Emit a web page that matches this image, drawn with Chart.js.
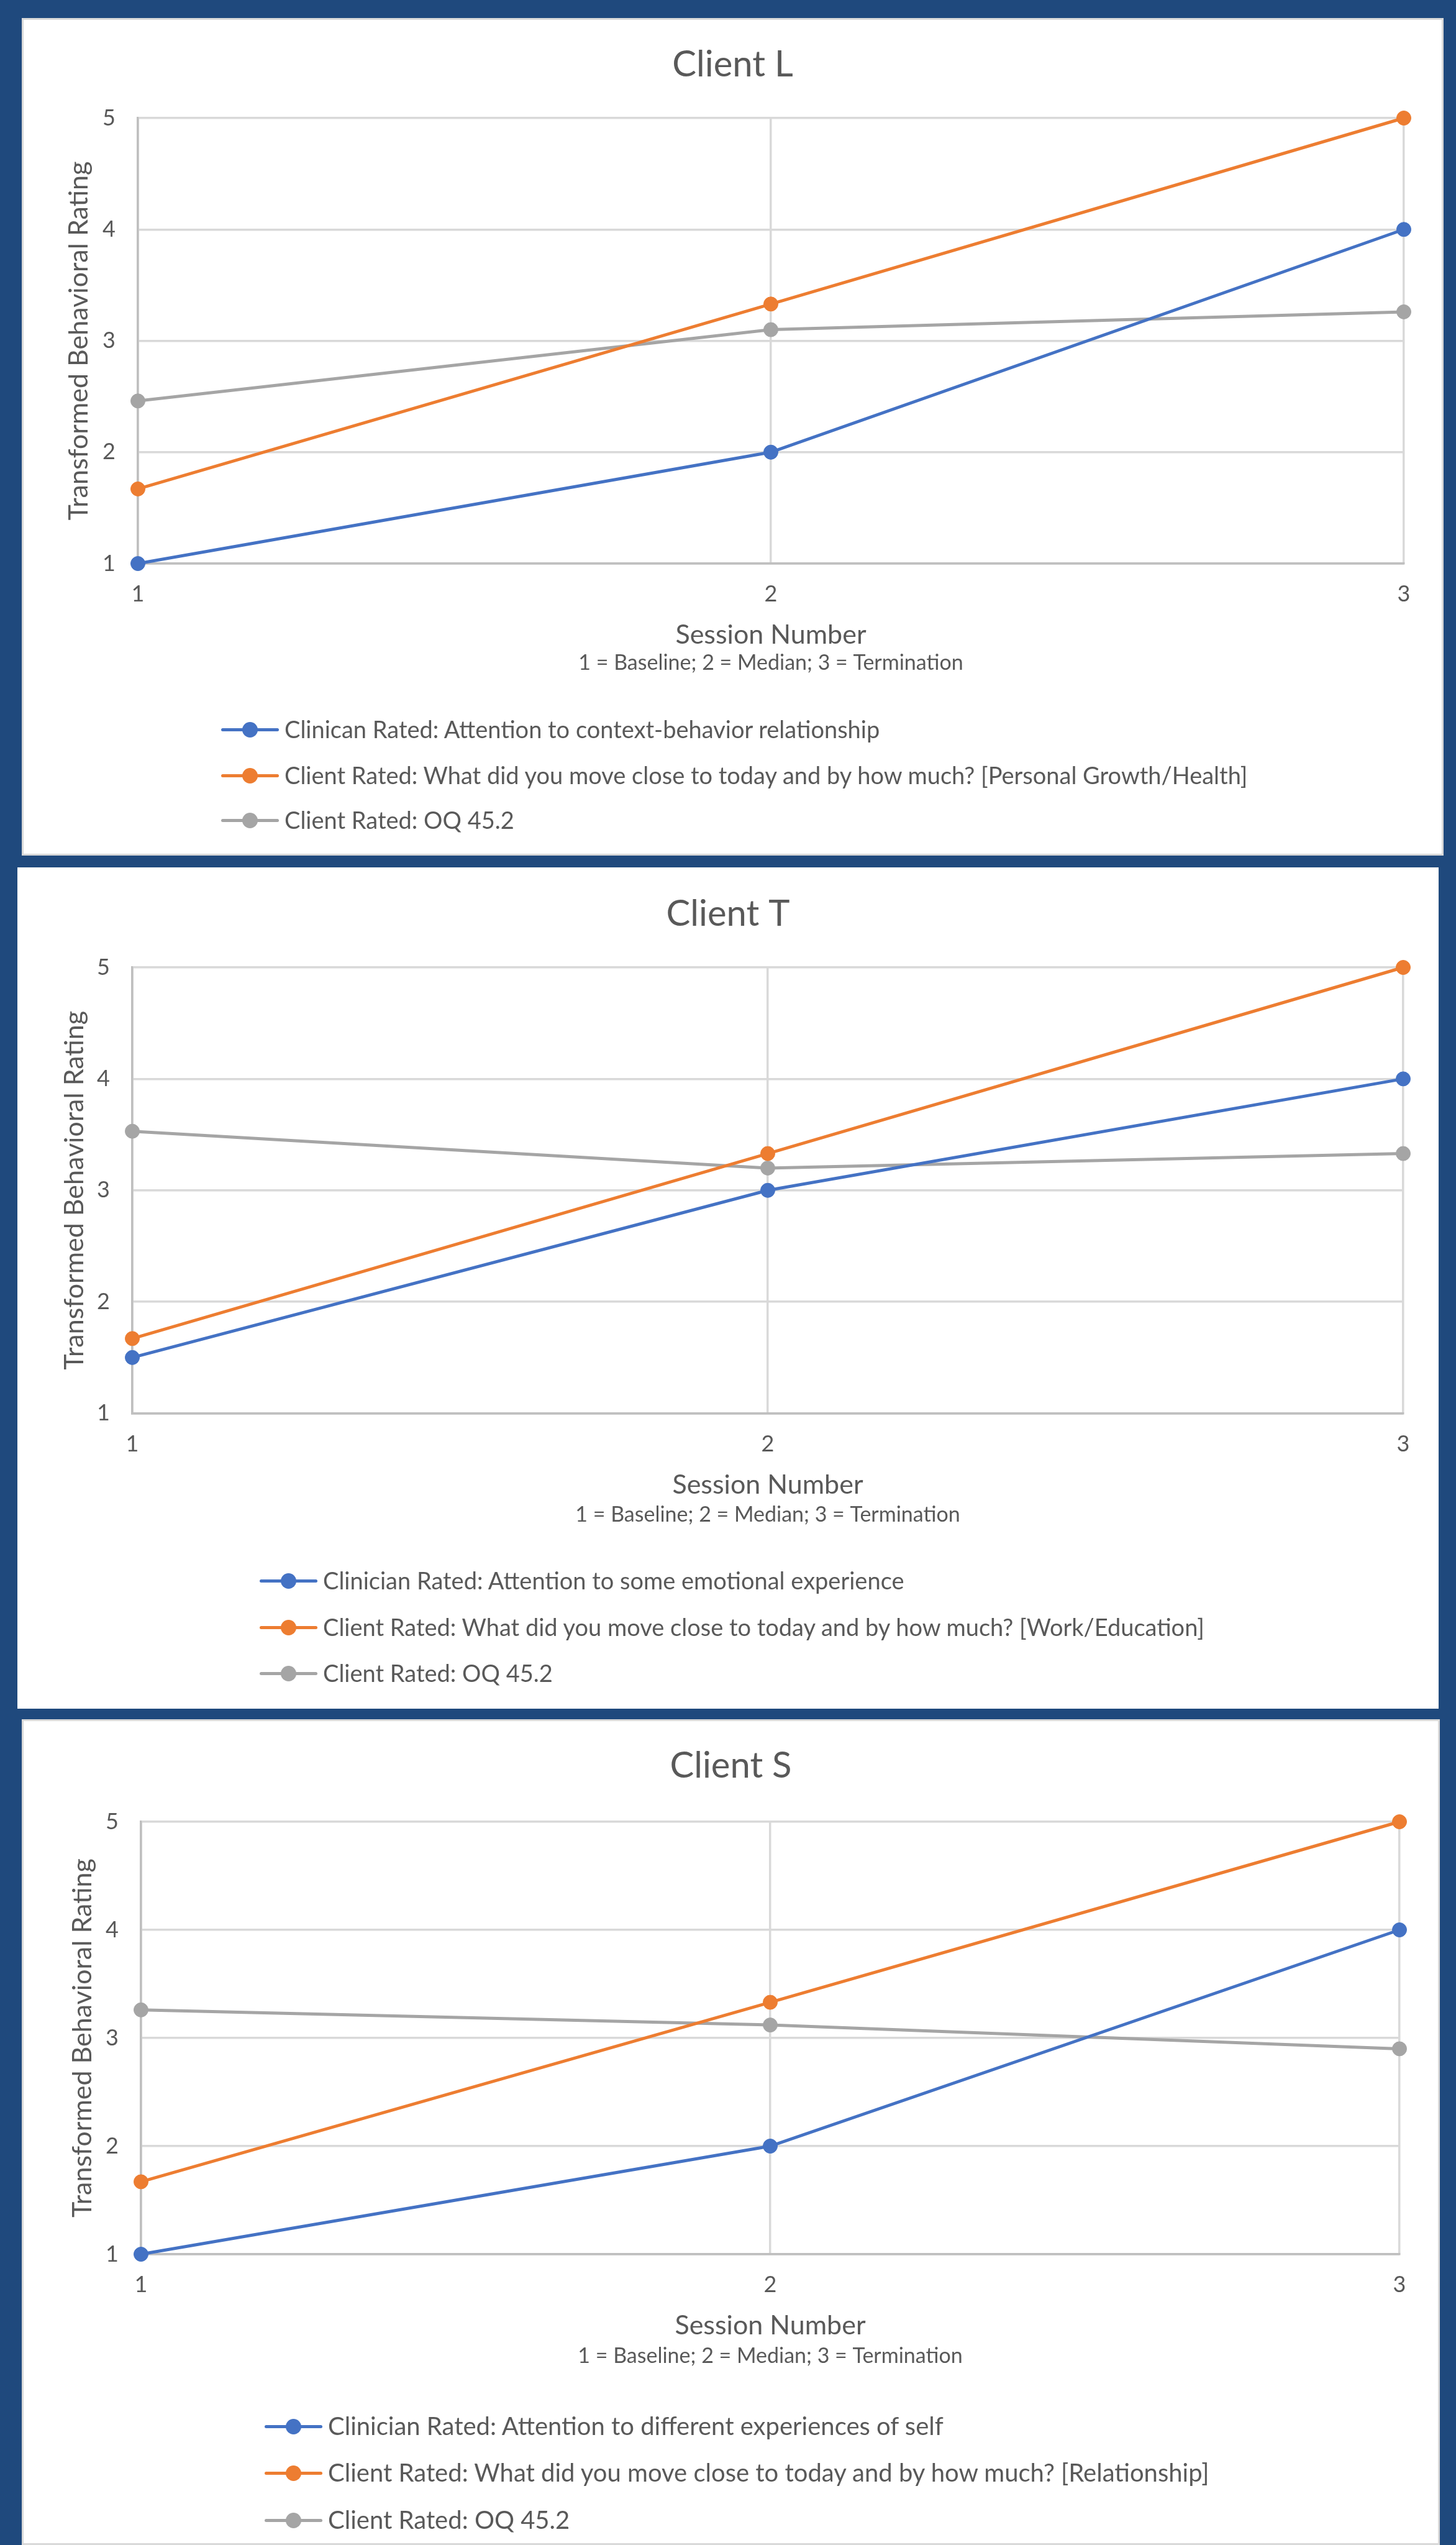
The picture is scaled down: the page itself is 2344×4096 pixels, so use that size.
<!DOCTYPE html>
<html>
<head>
<meta charset="utf-8">
<title>Client L, T and S – Transformed Behavioral Ratings</title>
<script src="https://cdn.jsdelivr.net/npm/chart.js@4.4.1/dist/chart.umd.min.js"></script>
<style>
  html, body { margin: 0; padding: 0; background: #1f497d; width: 2344px; height: 4096px; overflow: hidden; font-family: Lato, sans-serif; }
  .panel { position: absolute; background: #ffffff; }
  .panel.framed { box-shadow: inset 0 0 0 3px #d9d9d9; }
  .panel canvas { position: absolute; left: 0; top: 0; }
  .legend-item { position: absolute; height: 0; white-space: nowrap; color: #595959; font-size: 38px; }
  .legend-line { position: absolute; left: 0; top: -2.5px; width: 93px; height: 5px; border-radius: 2.5px; }
  .legend-dot { position: absolute; left: 34px; top: -12.5px; width: 25px; height: 25px; border-radius: 50%; }
  .legend-text { position: absolute; left: 102px; top: 0; transform: translateY(-52%); line-height: 1; }
</style>
</head>
<body>
<script>
// Shared axis content
const sessions = ['1', '2', '3'];
const xAxisTitle = 'Session Number';
const xAxisNote = '1 = Baseline; 2 = Median; 3 = Termination';
const yAxisTitle = 'Transformed Behavioral Rating';
const seriesColors = ['#4472c4', '#ed7d31', '#a5a5a5'];

// Client L
const clientLNames = [
  'Clinican Rated: Attention to context-behavior relationship',
  'Client Rated: What did you move close to today and by how much? [Personal Growth/Health]',
  'Client Rated: OQ 45.2'
];
const clientLClinician = [1, 2, 4];
const clientLMoveCloser = [1.67, 3.33, 5];
const clientLOQ = [2.46, 3.10, 3.26];

// Client T
const clientTNames = [
  'Clinician Rated: Attention to some emotional experience',
  'Client Rated: What did you move close to today and by how much? [Work/Education]',
  'Client Rated: OQ 45.2'
];
const clientTClinician = [1.5, 3, 4];
const clientTMoveCloser = [1.67, 3.33, 5];
const clientTOQ = [3.53, 3.20, 3.33];

// Client S
const clientSNames = [
  'Clinician Rated: Attention to different experiences of self',
  'Client Rated: What did you move close to today and by how much? [Relationship]',
  'Client Rated: OQ 45.2'
];
const clientSClinician = [1, 2, 4];
const clientSMoveCloser = [1.67, 3.33, 5];
const clientSOQ = [3.26, 3.12, 2.90];

Chart.defaults.font.family = 'Lato, sans-serif';
Chart.defaults.color = '#595959';

// Panel geometry (page pixels)
const panels = [
  { title: 'Client L', names: clientLNames, series: [clientLClinician, clientLMoveCloser, clientLOQ],
    left: 35, top: 29, width: 2289, height: 1348, framed: true,
    axisLeft: 187, gapRight: 64, plotTop: 161, plotBottom: 878, yTitleCenter: 92, noteTop: 0.6,
    legendLeft: 321, legendRows: [1145, 1219, 1291], legendSize: 38 },
  { title: 'Client T', names: clientTNames, series: [clientTClinician, clientTMoveCloser, clientTOQ],
    left: 28, top: 1396, width: 2288, height: 1354, framed: false,
    axisLeft: 185, gapRight: 57, plotTop: 161, plotBottom: 878.5, yTitleCenter: 92, noteTop: 3.8,
    legendLeft: 390, legendRows: [1148, 1223, 1297], legendSize: 38 },
  { title: 'Client S', names: clientSNames, series: [clientSClinician, clientSMoveCloser, clientSOQ],
    left: 35, top: 2767, width: 2283, height: 1329, framed: true,
    axisLeft: 192, gapRight: 65, plotTop: 165, plotBottom: 861, yTitleCenter: 98, noteTop: 3.8,
    legendLeft: 391, legendRows: [1138, 1213, 1289], legendSize: 40 }
];

const X_AXIS_HEIGHT = 140;
const TITLE_SIZE = 58, AXIS_TITLE_SIZE = 43, TICK_SIZE = 36, NOTE_SIZE = 34;

function buildPanel(p) {
  const div = document.createElement('div');
  div.className = 'panel' + (p.framed ? ' framed' : '');
  Object.assign(div.style, { left: p.left + 'px', top: p.top + 'px', width: p.width + 'px', height: p.height + 'px' });
  document.body.appendChild(div);

  const canvas = document.createElement('canvas');
  canvas.width = p.width;
  canvas.height = p.height;
  canvas.style.width = p.width + 'px';
  canvas.style.height = p.height + 'px';
  div.appendChild(canvas);

  const titleLine = TITLE_SIZE * 1.2;
  const titlePadTop = 75.5 - titleLine / 2;
  const titlePadBottom = p.plotTop - titlePadTop - titleLine;
  const noteLine = NOTE_SIZE * 1.2;
  const noteTop = p.noteTop + 19.8 - noteLine / 2;
  const bottomPad = p.height - p.plotBottom - X_AXIS_HEIGHT - noteTop - noteLine;
  const yTitlePad = p.yTitleCenter - AXIS_TITLE_SIZE * 1.2 / 2;
  const xTitleBottom = X_AXIS_HEIGHT - 115.5 - AXIS_TITLE_SIZE * 1.2 / 2;

  const datasets = p.series.map((values, i) => ({
    label: p.names[i],
    data: values,
    borderColor: seriesColors[i],
    backgroundColor: seriesColors[i],
    pointBackgroundColor: seriesColors[i],
    pointBorderColor: seriesColors[i],
    borderWidth: 5,
    pointRadius: 11.5,
    pointBorderWidth: 1,
    tension: 0,
    fill: false,
    clip: false
  }));

  new Chart(canvas, {
    type: 'line',
    data: { labels: sessions, datasets: datasets },
    options: {
      responsive: false,
      animation: false,
      devicePixelRatio: 1,
      layout: { padding: { left: 0, right: 0, top: 0, bottom: bottomPad } },
      plugins: {
        legend: { display: false },
        tooltip: { enabled: false },
        title: {
          display: true, text: p.title, color: '#595959',
          font: { size: TITLE_SIZE, weight: 'normal', lineHeight: 1.2 },
          padding: { top: titlePadTop, bottom: titlePadBottom }
        },
        subtitle: {
          display: true, position: 'bottom', fullSize: false, text: xAxisNote, color: '#595959',
          font: { size: NOTE_SIZE, weight: 'normal', lineHeight: 1.2 },
          padding: { top: noteTop, bottom: 0 }
        }
      },
      scales: {
        x: {
          type: 'category',
          offset: false,
          afterFit: (s) => { s.height = X_AXIS_HEIGHT; },
          grid: {
            color: (c) => (c.index === 0 ? '#bfbfbf' : '#d9d9d9'),
            lineWidth: 3.5, drawTicks: false
          },
          border: { color: '#bfbfbf', width: 3.5 },
          ticks: { padding: 28, color: '#595959', font: { size: TICK_SIZE } },
          title: {
            display: true, text: xAxisTitle, color: '#595959',
            font: { size: AXIS_TITLE_SIZE, lineHeight: 1.2 },
            padding: { top: 0, bottom: xTitleBottom }
          }
        },
        y: {
          type: 'linear',
          min: 1, max: 5,
          afterFit: (s) => { s.width = p.axisLeft; },
          grid: {
            color: (c) => (c.tick && c.tick.value === 1 ? '#bfbfbf' : '#d9d9d9'),
            lineWidth: 3.5, drawTicks: false
          },
          border: { color: '#bfbfbf', width: 3.5 },
          ticks: { stepSize: 1, padding: 36, color: '#595959', font: { size: TICK_SIZE } },
          title: {
            display: true, text: yAxisTitle, color: '#595959',
            font: { size: AXIS_TITLE_SIZE, lineHeight: 1.2 },
            padding: { top: yTitlePad, bottom: 0 }
          }
        },
        // empty margin on the right of the plot, keeps the chart title centred on the panel
        yMargin: {
          type: 'linear',
          position: 'right',
          min: 1, max: 5,
          afterFit: (s) => { s.width = p.gapRight; },
          grid: { display: false, drawOnChartArea: false },
          border: { display: false },
          ticks: { display: false }
        }
      }
    }
  });

  // Series key: one row per dataset, left-aligned in a block below the axis
  p.names.forEach((name, i) => {
    const item = document.createElement('div');
    item.className = 'legend-item';
    item.style.left = p.legendLeft + 'px';
    item.style.top = p.legendRows[i] + 'px';
    item.style.fontSize = p.legendSize + 'px';
    const line = document.createElement('div');
    line.className = 'legend-line';
    line.style.background = seriesColors[i];
    const dot = document.createElement('div');
    dot.className = 'legend-dot';
    dot.style.background = seriesColors[i];
    const text = document.createElement('span');
    text.className = 'legend-text';
    text.textContent = name;
    item.appendChild(line);
    item.appendChild(dot);
    item.appendChild(text);
    div.appendChild(item);
  });
}

panels.forEach(buildPanel);
</script>
</body>
</html>
